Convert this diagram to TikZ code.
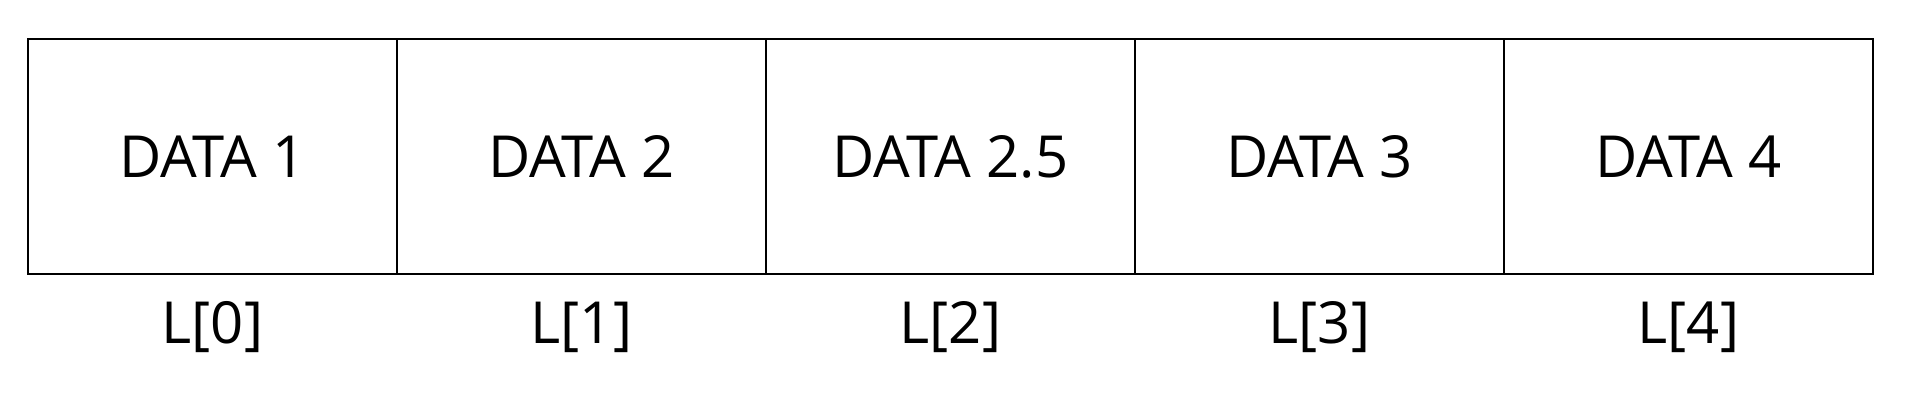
\documentclass[tikz,border=0pt]{standalone}
\usepackage{fontspec}
\setmainfont{Open Sans}
\begin{document}
\begin{tikzpicture}[x=1pt,y=1pt,
  cell/.style={draw=black, line width=2.8pt, minimum width=369pt, minimum height=235pt, inner sep=0pt, font=\fontsize{58}{60}\selectfont},
  idx/.style={anchor=base, inner sep=0pt, font=\fontsize{58}{60}\selectfont}]
\useasboundingbox (0,0) rectangle (1912,416);
\foreach \i/\t in {0/DATA 1,1/DATA 2,2/DATA 2.5,3/DATA 3,4/DATA 4}{
  \node[cell] (c\i) at ({28+184.5+369*\i},{416-156.5}) {\t};
  \node[idx] (l\i) at ({28+184.5+369*\i},{416-343}) {L[\i]};
}
\end{tikzpicture}
\end{document}
